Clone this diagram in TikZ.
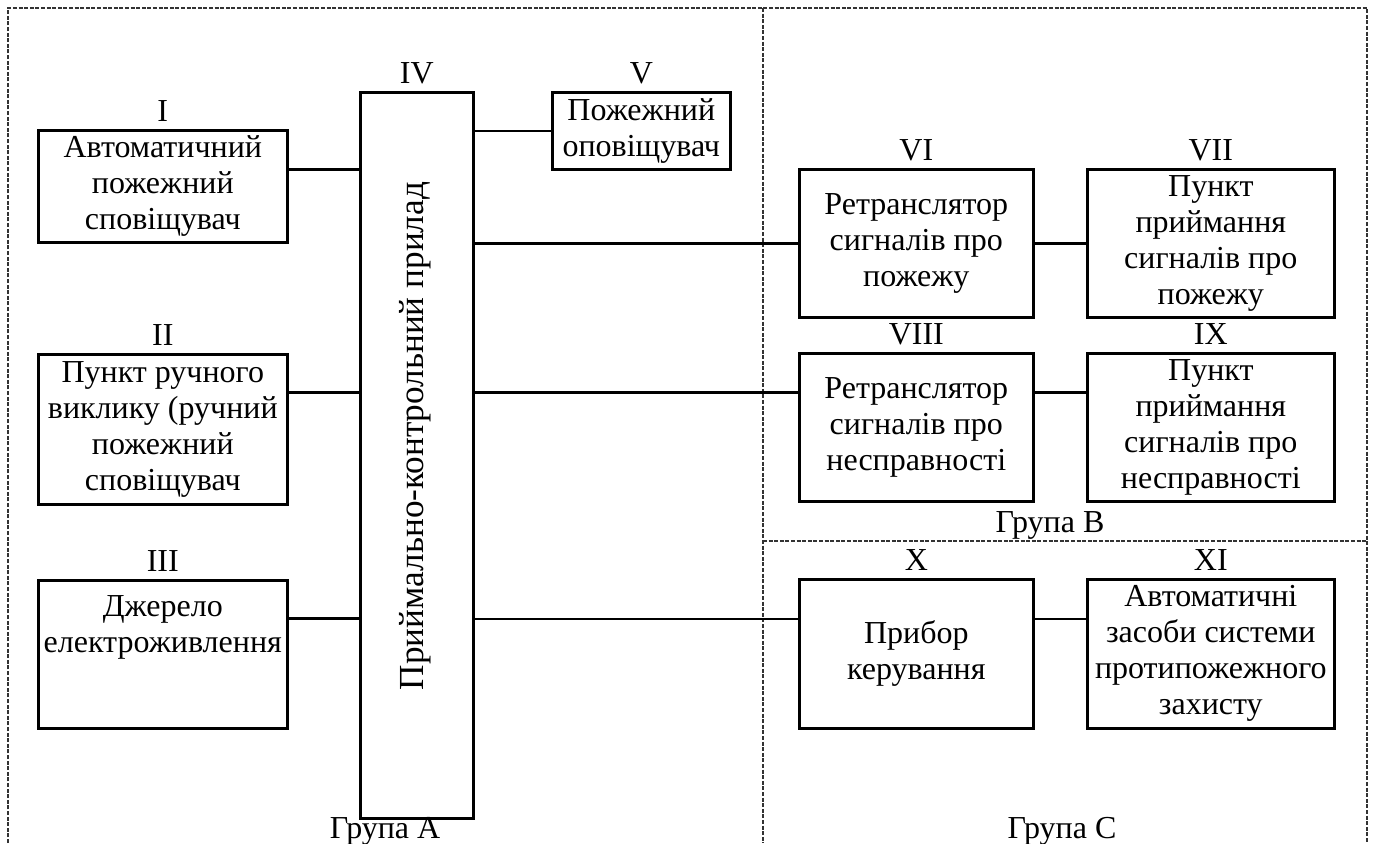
\documentclass[tikz,border=0pt]{standalone}
\usepackage{fontspec}
\setmainfont{Liberation Serif}
\usetikzlibrary{positioning}

\begin{document}
\begin{tikzpicture}[
  x=0.5pt, y=-0.5pt,
  font=\fontsize{16}{18}\selectfont,
  % boxes and lines
  blk/.style={draw, line width=1.3pt, inner sep=2pt, align=center, anchor=north west},
  link/.style={line width=1.2pt},
  zone/.style={line width=0.6pt, dash pattern=on 2pt off 0.8pt, draw=black!80},
  % labels
  numlbl/.style={inner sep=0pt},
  grplbl/.style={inner sep=0pt, anchor=base},
  txt/.style={inner sep=0pt, align=center}
]
  \useasboundingbox (0,0) rectangle (1374,843);

  % =============================================================
  % Group zones (dashed)
  % =============================================================
  \draw[zone] (8,843) -- (8,8) -- (1367,8) -- (1367,843);
  \draw[zone] (763,8) -- (763,843);
  \draw[zone] (763,541) -- (1367,541);

  % =============================================================
  % Group A
  % =============================================================
  \node[blk, minimum width=124.5pt, minimum height=56pt] (bI) at (37,129)
       {Автоматичний\\пожежний\\сповіщувач};
  \node[blk, minimum width=124.5pt, minimum height=75pt] (bII) at (37,353)
       {Пункт ручного\\виклику (ручний\\пожежний\\сповіщувач};
  \node[blk, minimum width=124.5pt, minimum height=74pt] (bIII) at (37,579) {};
  \node[txt, anchor=north] (tIII) at ([yshift=-8pt]bIII.north)
       {Джерело\\електроживлення};

  % control panel (tall box, rotated text)
  \node[blk, minimum width=56.5pt, minimum height=363pt] (bIV) at (359,91) {};
  \node[txt, rotate=90, font=\fontsize{17.6}{20}\selectfont] (tIV) at (415,436)
       {Приймально-контрольний прилад};

  \node[blk, minimum width=89pt, minimum height=38.5pt] (bV) at (551,91)
       {Пожежний\\оповіщувач};

  % =============================================================
  % Groups B and C
  % =============================================================
  \node[blk, minimum width=117pt, minimum height=74pt] (bVI) at (798,168)
       {Ретранслятор\\сигналів про\\пожежу};
  \node[blk, minimum width=123.5pt, minimum height=74pt] (bVII) at (1086,168)
       {Пункт\\приймання\\сигналів про\\пожежу};
  \node[blk, minimum width=117pt, minimum height=74pt] (bVIII) at (798,352)
       {Ретранслятор\\сигналів про\\несправності};
  \node[blk, minimum width=123.5pt, minimum height=74pt] (bIX) at (1086,352)
       {Пункт\\приймання\\сигналів про\\несправності};
  \node[blk, minimum width=117pt, minimum height=74.5pt] (bX) at (798,578)
       {Прибор\\керування};
  \node[blk, minimum width=123.5pt, minimum height=74.5pt] (bXI) at (1086,578)
       {Автоматичні\\засоби системи\\протипожежного\\захисту};

  % --- numbering above boxes ---
  \node[numlbl, above=3.5pt of bI] (nI) {I};
  \node[numlbl, above=3.5pt of bII] (nII) {II};
  \node[numlbl, above=3.5pt of bIII] (nIII) {III};
  \node[numlbl, above=3.5pt of bIV] (nIV) {IV};
  \node[numlbl, above=3.5pt of bV] (nV) {V};
  \node[numlbl, above=3.5pt of bVI] (nVI) {VI};
  \node[numlbl, above=3.5pt of bVII] (nVII) {VII};
  \node[numlbl, above=3.5pt of bVIII] (nVIII) {VIII};
  \node[numlbl, above=3.5pt of bIX] (nIX) {IX};
  \node[numlbl, above=3.5pt of bX] (nX) {X};
  \node[numlbl, above=3.5pt of bXI] (nXI) {XI};

  % --- group captions ---
  \node[grplbl] (gA) at (385,838) {Група А};
  \node[grplbl] (gB) at (1050,532) {Група В};
  \node[grplbl] (gC) at (1062,838) {Група С};

  % =============================================================
  % Connections
  % =============================================================
  \draw[link] ([yshift=8.5pt]bI.east) -- ([yshift=8.5pt]bI.east -| bIV.west);
  \draw[link] ([yshift=18.5pt]bII.east) -- ([yshift=18.5pt]bII.east -| bIV.west);
  \draw[link] ([yshift=18pt]bIII.east) -- ([yshift=18pt]bIII.east -| bIV.west);
  \draw[link] (bV.west -| bIV.east) -- (bV.west);
  \draw[link] (bVI.west -| bIV.east) -- (bVI.west);
  \draw[link] (bVI.east) -- (bVII.west);
  \draw[link] ([yshift=17.5pt]bVIII.west -| bIV.east) -- ([yshift=17.5pt]bVIII.west);
  \draw[link] ([yshift=17.5pt]bVIII.east) -- ([yshift=17.5pt]bVIII.east -| bIX.west);
  \draw[link] ([yshift=17.5pt]bX.west -| bIV.east) -- ([yshift=17.5pt]bX.west);
  \draw[link] ([yshift=17.5pt]bX.east) -- ([yshift=17.5pt]bX.east -| bXI.west);
\end{tikzpicture}
\end{document}
